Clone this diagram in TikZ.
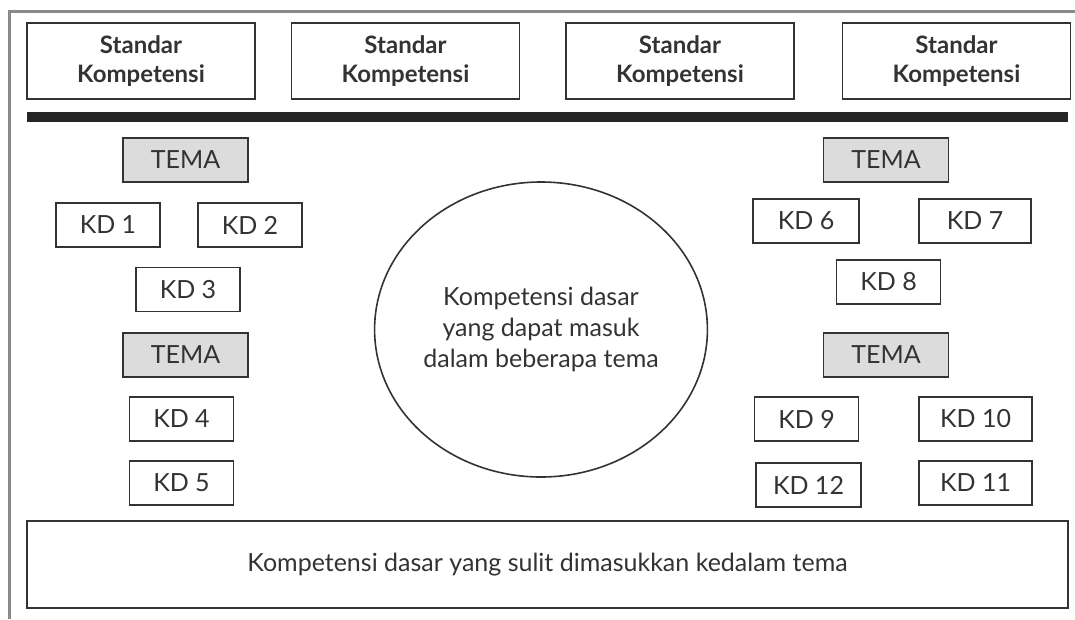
\documentclass[tikz,border=0pt]{standalone}
\usepackage{fontspec}
\setmainfont{Lato}
\usetikzlibrary{shapes.geometric}
\definecolor{inkgray}{HTML}{333333}
\definecolor{framegray}{HTML}{8A8A8A}
\definecolor{temafill}{HTML}{DCDCDC}
\begin{document}
\begin{tikzpicture}[x=1pt,y=-1pt,
    sk/.style={draw=inkgray,line width=1.8pt,minimum width=228pt,minimum height=76pt,
      inner sep=0pt,align=center,text=inkgray,font=\bfseries\fontsize{24}{29}\selectfont},
    tema/.style={draw=inkgray,line width=1.8pt,fill=temafill,minimum width=125pt,minimum height=44pt,
      inner sep=0pt,text=inkgray,font=\fontsize{25}{28}\selectfont},
    kd/.style={draw=inkgray,line width=1.8pt,minimum width=104pt,minimum height=44pt,
      inner sep=0pt,text=inkgray,font=\fontsize{25}{28}\selectfont},
    kdwide/.style={kd,minimum width=112pt},
    plain/.style={text=inkgray,font=\fontsize{25}{31}\selectfont,align=center}]
  \useasboundingbox (0,0) rectangle (1075,619);
  % outer frame, cut off at the right and the bottom
  \draw[framegray,line width=3pt] (9,619) -- (9,11) -- (1075,11);
  % standar kompetensi
  \draw
    (141,61) node[sk] (sk1) {Standar\\Kompetensi}
    (405.5,61) node[sk] (sk2) {Standar\\Kompetensi}
    (680,61) node[sk] (sk3) {Standar\\Kompetensi}
    (956.5,61) node[sk] (sk4) {Standar\\Kompetensi};
  \coordinate (barl) at (27,117);
  \coordinate (barr) at (1068,117);
  \draw[black!85,line width=10pt] (barl) -- (barr);
  % left themes
  \draw
    (185.5,160) node[tema] (tema1) {TEMA}
    (108,225) node[kd] (kd1) {KD 1}
    (250,225) node[kd] (kd2) {KD 2}
    (188,289.5) node[kd] (kd3) {KD 3}
    (185.5,355) node[tema] (tema2) {TEMA}
    (181.5,419) node[kd] (kd4) {KD 4}
    (181.5,483) node[kd] (kd5) {KD 5};
  % right themes
  \draw
    (886,160) node[tema] (tema3) {TEMA}
    (806,221) node[kdwide,minimum width=106pt] (kd6) {KD 6}
    (975,221) node[kdwide] (kd7) {KD 7}
    (888.5,282) node[kd] (kd8) {KD 8}
    (886,355) node[tema] (tema4) {TEMA}
    (806.5,419) node[kd] (kd9) {KD 9}
    (975.5,419) node[kdwide,minimum width=113pt] (kd10) {KD 10}
    (808.5,485) node[kd,minimum width=105pt] (kd12) {KD 12}
    (975.5,483) node[kdwide,minimum width=113pt] (kd11) {KD 11};
  % shared and leftover competences
  \node[draw=inkgray,line width=1.6pt,ellipse,minimum width=314pt,minimum height=295pt,
    inner sep=0pt,plain] (shared) at (541,329.5)
    {Kompetensi dasar\\yang dapat masuk\\dalam beberapa tema};
  \node[draw=inkgray,line width=1.8pt,minimum width=1041pt,minimum height=87pt,
    inner sep=0pt,plain] (rest) at (547.5,564.5)
    {Kompetensi dasar yang sulit dimasukkan kedalam tema};
\end{tikzpicture}
\end{document}
